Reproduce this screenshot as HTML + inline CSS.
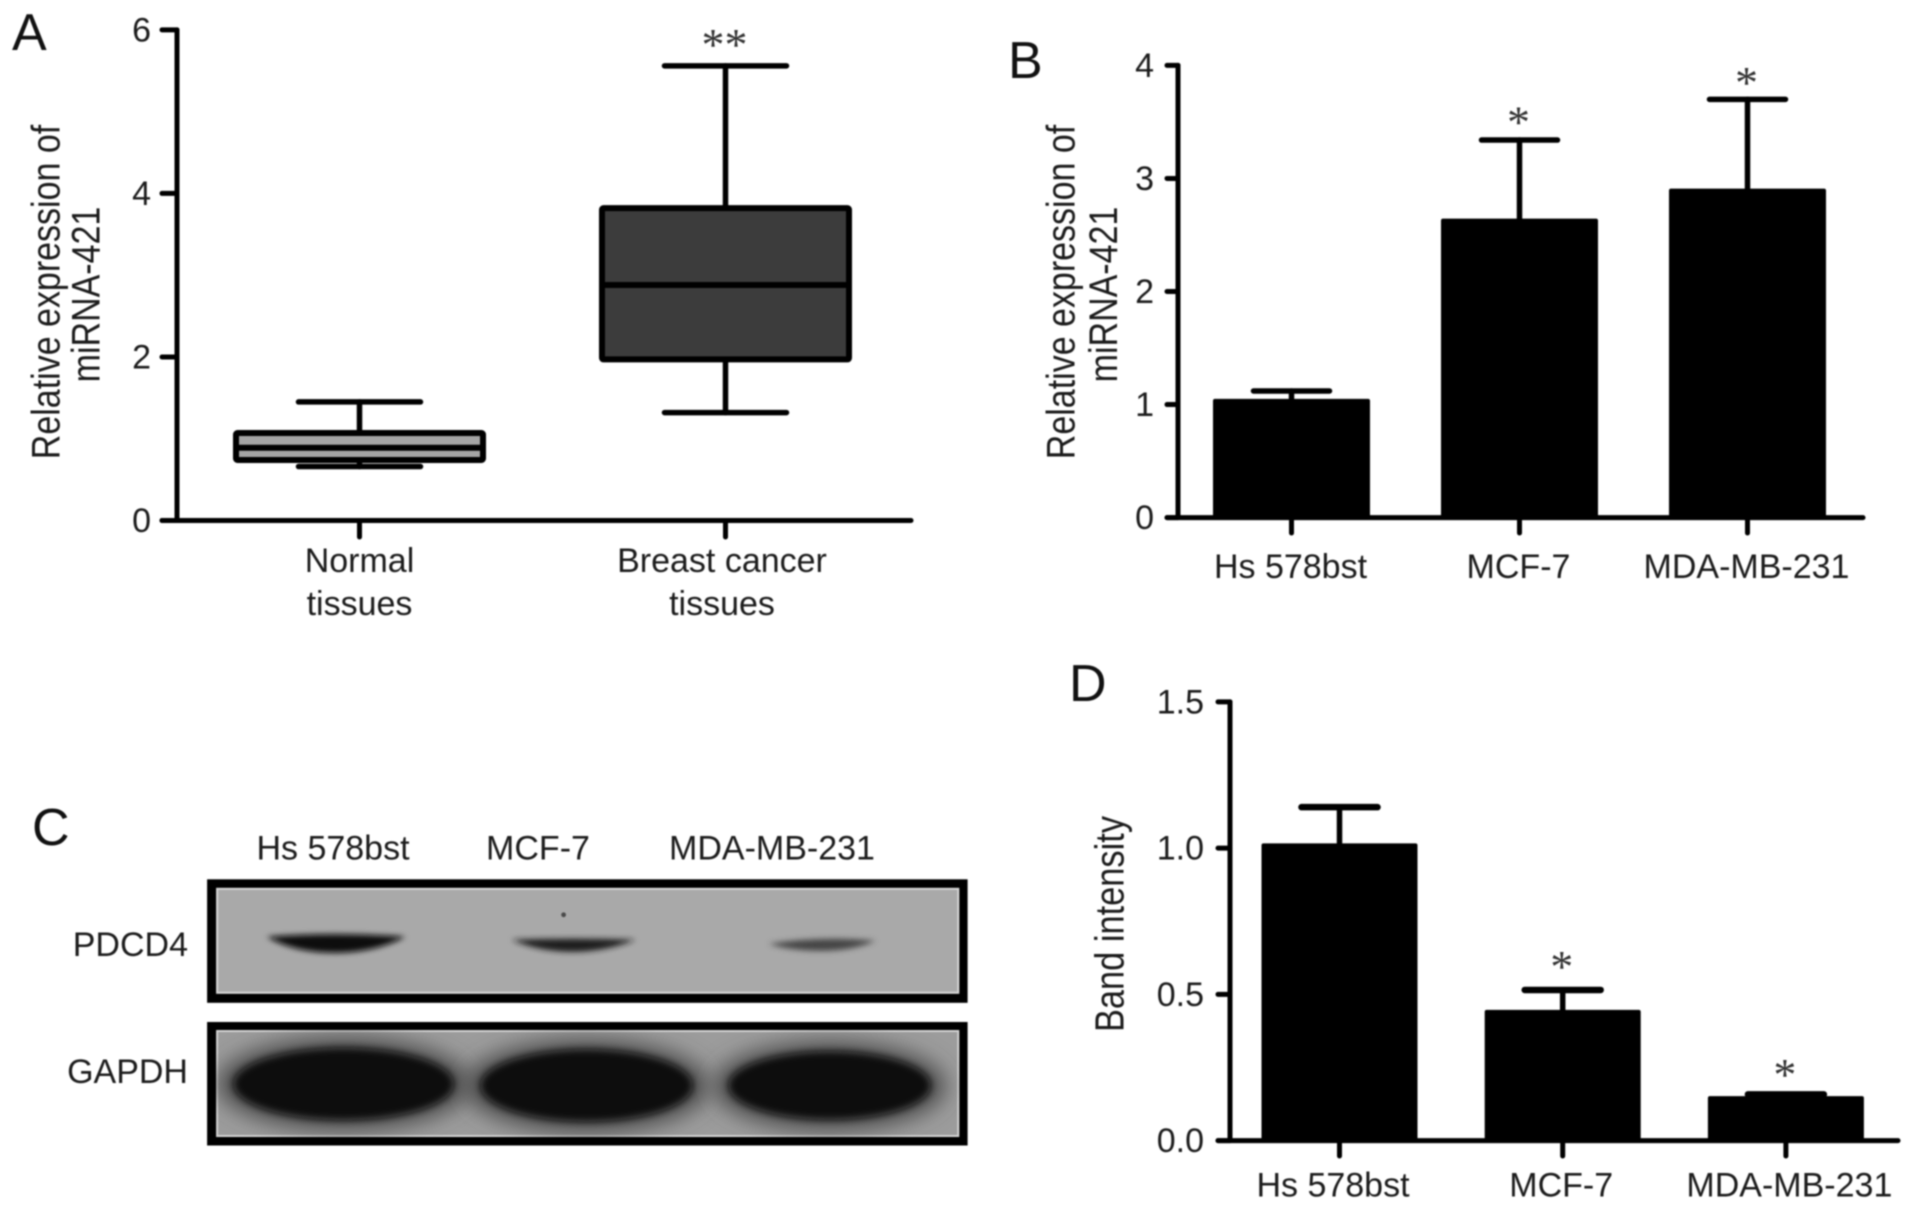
<!DOCTYPE html>
<html lang="en">
<head>
<meta charset="utf-8">
<title>miRNA-421 and PDCD4 expression figure</title>
<style>
html,body{margin:0;padding:0;background:#fff;width:1913px;height:1210px;overflow:hidden}
svg{display:block;filter:blur(.75px)}
text{font-family:"Liberation Sans",sans-serif;fill:#1c1c1c;font-size:34px}
.panel{font-size:52px;fill:#111}
.sig{font-family:"Liberation Serif",serif;font-size:46px;fill:#333;text-anchor:middle}
</style>
</head>
<body>
<svg id="figure" xmlns="http://www.w3.org/2000/svg" width="1913" height="1210" viewBox="0 0 1913 1210">
  <defs>
    <filter id="band-blur" x="-30%" y="-80%" width="160%" height="260%"><feGaussianBlur stdDeviation="3"/></filter>
    <filter id="halo-blur" x="-30%" y="-50%" width="160%" height="200%"><feGaussianBlur stdDeviation="11"/></filter>
    <filter id="blob-blur" x="-20%" y="-30%" width="140%" height="160%"><feGaussianBlur stdDeviation="4"/></filter>
    <clipPath id="gapdh-clip"><rect x="218.5" y="1028" width="743.2" height="107"/></clipPath>
  </defs>

  <text class="panel" x="12" y="50">A</text>
  <text class="panel" x="1008" y="78">B</text>
  <text class="panel" x="32" y="845">C</text>
  <text class="panel" x="1069" y="701">D</text>

  <g id="chart-a">
    <g transform="translate(59.5,292) scale(1.18,1) rotate(-90)">
      <text text-anchor="middle">Relative expression of</text>
    </g>
    <g transform="translate(99.5,294.5) scale(1.18,1) rotate(-90)">
      <text text-anchor="middle">miRNA-421</text>
    </g>
  </g>

  <g id="chart-b">
    <g transform="translate(1074.5,292) scale(1.18,1) rotate(-90)">
      <text text-anchor="middle">Relative expression of</text>
    </g>
    <g transform="translate(1117,294.5) scale(1.18,1) rotate(-90)">
      <text text-anchor="middle">miRNA-421</text>
    </g>
  </g>

  <g id="chart-d">
    <g transform="translate(1123.5,924) scale(1.18,1) rotate(-90)">
      <text text-anchor="middle" style="font-size:34.4px">Band intensity</text>
    </g>
  </g>

  <g id="western-blot">
    <text x="333" y="859.5" text-anchor="middle">Hs 578bst</text>
    <text x="538" y="859.5" text-anchor="middle">MCF-7</text>
    <text x="772" y="859.5" text-anchor="middle">MDA-MB-231</text>
    <text x="188" y="956" text-anchor="end">PDCD4</text>
    <text x="188" y="1083" text-anchor="end">GAPDH</text>

    <g transform="translate(-2.4,1.8)">
      <rect x="209.5" y="877.5" width="760.5" height="123.5" fill="#000"/>
      <rect x="218.5" y="886" width="743.2" height="106" fill="#d8d8d8"/>
      <rect x="220.5" y="888" width="739.2" height="102" fill="#a9a9a9"/>
      <path d="M269 935 Q337 930 408 935 Q377 951 337 951 Q297 951 269 935Z" fill="#0c0c0c" filter="url(#band-blur)"/>
      <path d="M514 938 Q575 936 638 938 Q607 950 575 950 Q542 950 514 938Z" fill="#1a1a1a" filter="url(#band-blur)"/>
      <path d="M771 942 Q824 934 878 939 Q855 949 824 949 Q793 949 771 942Z" fill="#444" filter="url(#band-blur)"/>
      <circle cx="566" cy="913" r="2.4" fill="#4a4a4a"/>
    </g>

    <g transform="translate(-2.4,2)">
      <rect x="209.5" y="1020" width="760.5" height="123.5" fill="#000"/>
      <rect x="218.5" y="1028" width="743.2" height="107" fill="#d4d4d4"/>
      <rect x="220.5" y="1030" width="739.2" height="103" fill="#9c9c9c"/>
      <g clip-path="url(#gapdh-clip)">
        <ellipse cx="346" cy="1082" rx="126" ry="46" fill="#4a4a4a" filter="url(#halo-blur)"/>
        <ellipse cx="589" cy="1084" rx="122" ry="46" fill="#4a4a4a" filter="url(#halo-blur)"/>
        <ellipse cx="832" cy="1084" rx="116" ry="44" fill="#4a4a4a" filter="url(#halo-blur)"/>
        <ellipse cx="346" cy="1082" rx="110" ry="36" fill="#0c0c0c" filter="url(#blob-blur)"/>
        <ellipse cx="589" cy="1083.5" rx="106" ry="36" fill="#0c0c0c" filter="url(#blob-blur)"/>
        <ellipse cx="832" cy="1083.5" rx="101" ry="34" fill="#0c0c0c" filter="url(#blob-blur)"/>
      </g>
    </g>
  </g>
</svg>

<script>
const tickValuesA = [0, 2, 4, 6];
const tickLabelsA = ["0", "2", "4", "6"];
const categoriesA = [["Normal", "tissues"], ["Breast cancer", "tissues"]];
const whiskerHighA = [1.45, 5.56];
const boxUpperA = [1.07, 3.82];
const medianA = [0.89, 2.88];
const boxLowerA = [0.74, 1.97];
const whiskerLowA = [0.66, 1.32];
const boxFillsA = ["#a4a4a4", "#3c3c3c"];
const significanceA = ["", "**"];

const tickValuesB = [0, 1, 2, 3, 4];
const tickLabelsB = ["0", "1", "2", "3", "4"];
const categoriesB = ["Hs 578bst", "MCF-7", "MDA-MB-231"];
const valuesB = [1.05, 2.645, 2.91];
const errorTopsB = [1.12, 3.34, 3.70];
const significanceB = ["", "*", "*"];
const significanceGapB = [0, 0.04, 0.03];

const tickValuesD = [0, 0.5, 1, 1.5];
const tickLabelsD = ["0.0", "0.5", "1.0", "1.5"];
const categoriesD = ["Hs 578bst", "MCF-7", "MDA-MB-231"];
const valuesD = [1.016, 0.447, 0.152];
const errorTopsD = [1.14, 0.515, 0.158];
const significanceD = ["", "*", "*"];
const significanceGapD = [0, 0.034, 0.022];

const SVG_NS = "http://www.w3.org/2000/svg";

function makeEl(parent, tag, attrs, content) {
  const el = document.createElementNS(SVG_NS, tag);
  for (const key in attrs) el.setAttribute(key, attrs[key]);
  if (content !== undefined) el.textContent = content;
  parent.appendChild(el);
  return el;
}

function strokeLine(parent, x1, y1, x2, y2, width) {
  return makeEl(parent, "line", {x1: x1, y1: y1, x2: x2, y2: y2, stroke: "#000", "stroke-width": width, "stroke-linecap": "round"});
}

function drawAxes(parent, opts) {
  const yLine = strokeLine(parent, opts.axisX, opts.y(opts.tickValues[opts.tickValues.length - 1]), opts.axisX, opts.y(0), 5);
  
  
  const xLine = strokeLine(parent, opts.axisLeft, opts.y(0), opts.axisRight, opts.y(0), 5);
  
  
  opts.tickValues.forEach(function (value, i) {
    const tick = strokeLine(parent, opts.axisLeft, opts.y(value), opts.axisX, opts.y(value), 5);
    
    
    const label = makeEl(parent, "text", {x: opts.tickLabelRight, y: opts.y(value) + 11.5, "text-anchor": "end"}, opts.tickLabels[i]);
    
    
  });
}

function drawBarChart(parent, opts) {
  opts.categories.forEach(function (category, i) {
    const cx = opts.x(i);
    const halfBar = opts.barWidth / 2;
    const halfCap = opts.capWidth / 2;

    const stem = strokeLine(parent, cx, opts.y(opts.errorTops[i]), cx, opts.y(opts.values[i]), 5.5);
    
    

    const cap = strokeLine(parent, cx - halfCap, opts.y(opts.errorTops[i]), cx + halfCap, opts.y(opts.errorTops[i]), opts.capStroke);
    
    

    const bar = makeEl(parent, "rect", {x: cx - halfBar, y: opts.y(opts.values[i]), width: opts.barWidth, height: opts.y(0) - opts.y(opts.values[i]), rx: 2, fill: "#000"});
    
    

    const tick = strokeLine(parent, cx, opts.y(0), cx, opts.tickBottom, 5);
    
    

    const label = makeEl(parent, "text", {x: opts.labelX(i), y: opts.labelY, "text-anchor": "middle"}, category);
    
    

    if (opts.significance[i]) {
      const baseline = opts.y(opts.errorTops[i] + opts.significanceGap[i]) + 2;
      const mark = makeEl(parent, "text", {x: cx - 1, y: baseline, "class": "sig"}, opts.significance[i]);
      
      
    }
  });
}

/* Panel A */
const yA = function (v) { return 520.5 - v * 81.77; };
const xA = function (i) { return 359.5 + i * 366; };
const chartA = document.getElementById("chart-a");
drawAxes(chartA, {y: yA, axisX: 177, axisLeft: 162, axisRight: 911, tickValues: tickValuesA, tickLabels: tickLabelsA, tickLabelRight: 151});

categoriesA.forEach(function (lines, i) {
  const cx = xA(i);
  const boxHalf = 123.5;
  const capHalf = 61;

  const upperStem = strokeLine(chartA, cx, yA(whiskerHighA[i]), cx, yA(boxUpperA[i]), 5.5);
  
  

  const lowerStem = strokeLine(chartA, cx, yA(boxLowerA[i]), cx, yA(whiskerLowA[i]), 5.5);
  
  

  const upperCap = strokeLine(chartA, cx - capHalf, yA(whiskerHighA[i]), cx + capHalf, yA(whiskerHighA[i]), 5.5);
  
  

  const lowerCap = strokeLine(chartA, cx - capHalf, yA(whiskerLowA[i]), cx + capHalf, yA(whiskerLowA[i]), 5.5);
  
  

  const box = makeEl(chartA, "rect", {x: cx - boxHalf, y: yA(boxUpperA[i]), width: boxHalf * 2, height: yA(boxLowerA[i]) - yA(boxUpperA[i]), fill: boxFillsA[i], stroke: "#000", "stroke-width": 6, rx: 1.5});
  
  

  const median = strokeLine(chartA, cx - boxHalf, yA(medianA[i]), cx + boxHalf, yA(medianA[i]), 6);
  
  

  const tick = strokeLine(chartA, cx, yA(0), cx, 537, 5);
  
  

  const labelX = i === 0 ? cx : cx - 3.5;
  const firstLine = makeEl(chartA, "text", {x: labelX, y: 572, "text-anchor": "middle"}, lines[0]);
  
  

  const secondLine = makeEl(chartA, "text", {x: labelX, y: 615, "text-anchor": "middle"}, lines[1]);
  
  

  if (significanceA[i]) {
    const mark = makeEl(chartA, "text", {x: cx - 1, y: yA(whiskerHighA[i]) - 6, "class": "sig"}, significanceA[i]);
    
    
  }
});

/* Panel B */
const yB = function (v) { return 517.6 - v * 113.05; };
const xB = function (i) { return 1291.5 + i * 228; };
const chartB = document.getElementById("chart-b");
drawAxes(chartB, {y: yB, axisX: 1178, axisLeft: 1167, axisRight: 1863, tickValues: tickValuesB, tickLabels: tickLabelsB, tickLabelRight: 1154});
drawBarChart(chartB, {
  y: yB, x: xB, categories: categoriesB, values: valuesB, errorTops: errorTopsB,
  significance: significanceB, significanceGap: significanceGapB,
  barWidth: 157, capWidth: 76, capStroke: 5.5, tickBottom: 533,
  labelX: function (i) { return xB(i) - 1; }, labelY: 578
});

/* Panel D */
const yD = function (v) { return 1140.6 - v * 292.5; };
const xD = function (i) { return 1339.5 + i * 223.2; };
const chartD = document.getElementById("chart-d");
drawAxes(chartD, {y: yD, axisX: 1230, axisLeft: 1218, axisRight: 1898, tickValues: tickValuesD, tickLabels: tickLabelsD, tickLabelRight: 1204});
drawBarChart(chartD, {
  y: yD, x: xD, categories: categoriesD, values: valuesD, errorTops: errorTopsD,
  significance: significanceD, significanceGap: significanceGapD,
  barWidth: 156, capWidth: 76, capStroke: 6.5, tickBottom: 1156,
  labelX: function (i) { return xD(i) + (i - 1) * 5 - 1.5; }, labelY: 1196.5
});
</script>
</body>
</html>
